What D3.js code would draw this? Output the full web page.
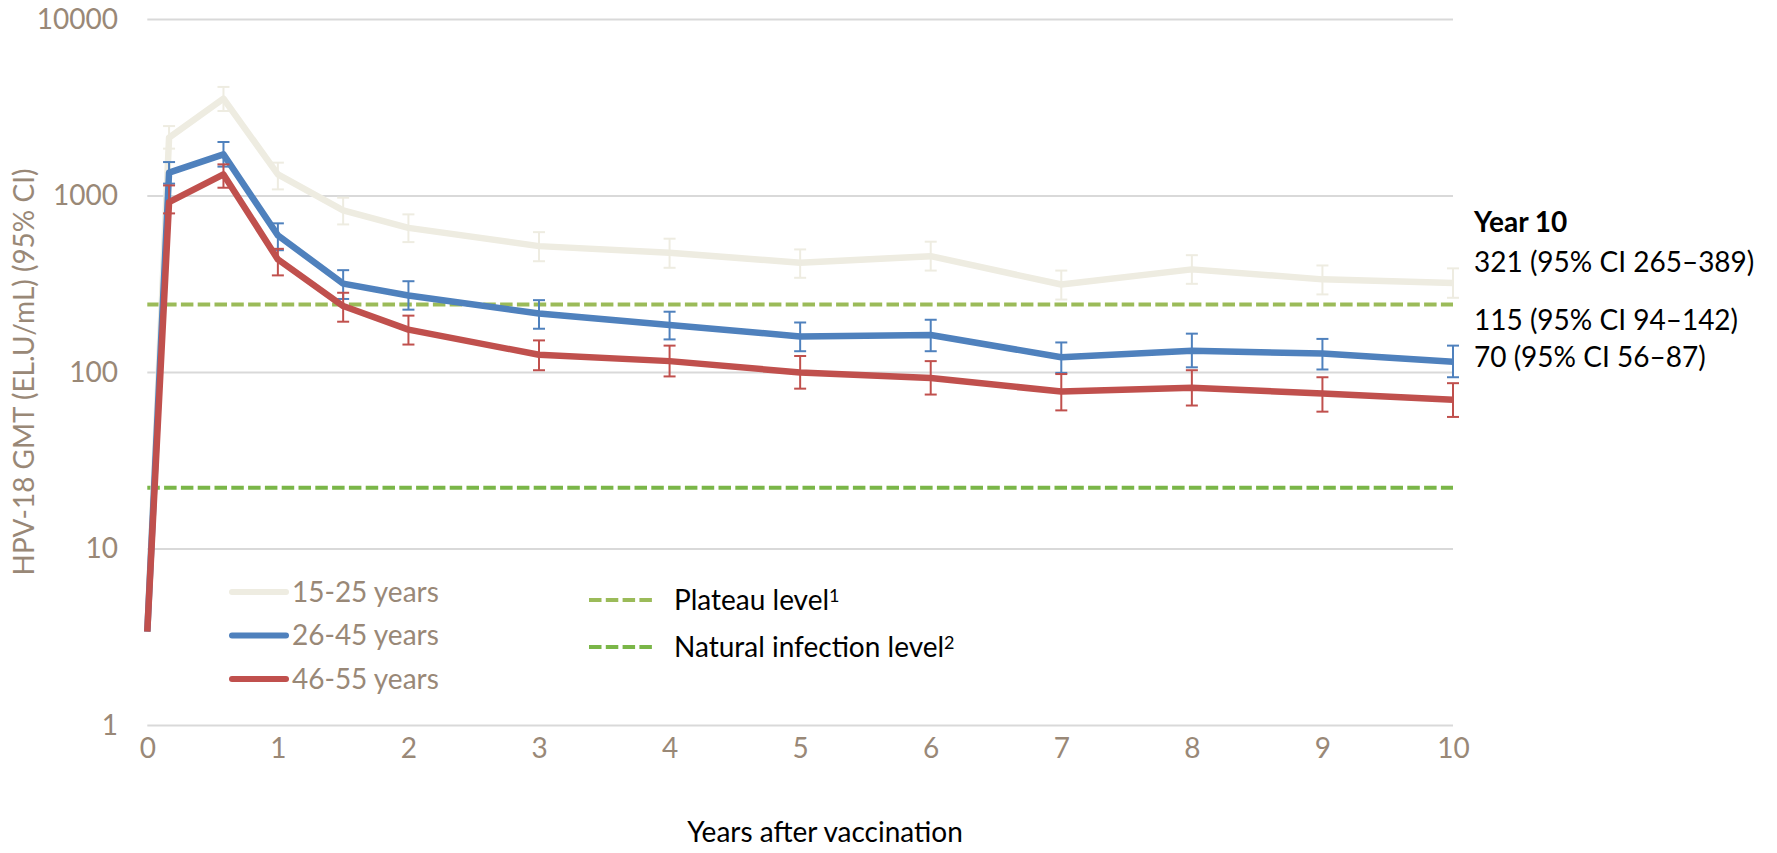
<!DOCTYPE html>
<html>
<head>
<meta charset="utf-8">
<script src="https://cdn.jsdelivr.net/npm/d3@7"></script>
<style>
  html, body { margin: 0; padding: 0; background: #ffffff; }
  svg { display: block; }
  text { font-family: Lato, "Open Sans", sans-serif; }
</style>
</head>
<body>
<svg id="chart" width="1777" height="853"></svg>
<script>
// Time points (years after vaccination): month 0, month 2, month 7, then yearly/half-yearly
const years = [0, 2 / 12, 7 / 12, 1, 1.5, 2, 3, 4, 5, 6, 7, 8, 9, 10];

// HPV-18 GMT (EL.U/mL) and 95% CI bounds per age group
const gmt1525 = [3.4, 2140, 3560, 1325, 830, 660, 520, 477, 419, 456, 315, 384, 337, 321];
const lo1525  = [null, 1855, 3030, 1090, 690, 548, 427, 392, 344, 378, 259, 318, 277, 265];
const hi1525  = [null, 2490, 4150, 1545, 978, 787, 624, 573, 498, 551, 378, 462, 404, 389];

const gmt2645 = [3.4, 1356, 1722, 598, 319, 273, 216, 186, 160, 163, 122, 133, 128, 115];
const lo2645  = [null, 1175, 1467, 493, 261, 227, 177, 154, 132, 132, 99.5, 107, 104, 94];
const hi2645  = [null, 1557, 2023, 700, 380, 329, 257, 221, 192, 199, 148, 166, 155, 142];

const gmt4655 = [3.4, 923, 1325, 437, 238, 175, 126, 116, 100, 93, 78, 82, 76, 70];
const lo4655  = [null, 797, 1114, 355, 194, 144, 103, 95, 81, 75, 61, 65, 60, 56];
const hi4655  = [null, 1148, 1511, 502, 283, 210, 152, 142, 124, 116, 98, 103, 94, 87];

const seriesNames = ["15-25 years", "26-45 years", "46-55 years"];
const seriesColors = ["#EEECE1", "#4F81BD", "#C0504D"];

// Reference levels
const plateauLevel = 243;
const naturalLevel = 22.2;

const yTicks = [1, 10, 100, 1000, 10000];
const xTicks = [0, 1, 2, 3, 4, 5, 6, 7, 8, 9, 10];

const year10Title = "Year 10";
const year10Labels = ["321 (95% CI 265–389)", "115 (95% CI 94–142)", "70 (95% CI 56–87)"];

const series = [
  { name: seriesNames[0], color: seriesColors[0], gmt: gmt1525, lo: lo1525, hi: hi1525 },
  { name: seriesNames[1], color: seriesColors[1], gmt: gmt2645, lo: lo2645, hi: hi2645 },
  { name: seriesNames[2], color: seriesColors[2], gmt: gmt4655, lo: lo4655, hi: hi4655 }
];

const svg = d3.select("#chart");
const tickColor = "#998877";

const x = d3.scaleLinear().domain([0, 10]).range([147.3, 1453]);
const y = d3.scaleLog().domain([1, 10000]).range([725.5, 19.5]);

// Horizontal gridlines
svg.append("g")
  .selectAll("line")
  .data(yTicks)
  .join("line")
  .attr("x1", x(0)).attr("x2", x(10))
  .attr("y1", d => y(d)).attr("y2", d => y(d))
  .attr("stroke", "#D9D9D9")
  .attr("stroke-width", 2);

// Y axis tick labels
const yAxis = d3.axisLeft(y).tickValues(yTicks).tickFormat(d3.format("d")).tickSize(0).tickPadding(0);
const yg = svg.append("g").attr("transform", `translate(118,0)`).call(yAxis);
yg.select(".domain").remove();
yg.selectAll("text")
  .attr("fill", tickColor)
  .style("font-size", "28px")
  .style("font-family", "Lato, sans-serif");

// X axis tick labels
const xAxis = d3.axisBottom(x).tickValues(xTicks).tickFormat(d3.format("d")).tickSize(0).tickPadding(0);
const xg = svg.append("g").attr("transform", `translate(0,752)`).call(xAxis);
xg.select(".domain").remove();
xg.selectAll("text")
  .attr("fill", tickColor)
  .attr("dy", "0.2em")
  .style("font-size", "28px")
  .style("font-family", "Lato, sans-serif");

// Reference level lines
const refLines = [
  { v: plateauLevel, color: "#9BBB59" },
  { v: naturalLevel, color: "#7AB648" }
];
svg.append("g")
  .selectAll("line")
  .data(refLines)
  .join("line")
  .attr("x1", x(0)).attr("x2", x(10))
  .attr("y1", d => y(d.v)).attr("y2", d => y(d.v))
  .attr("stroke", d => d.color)
  .attr("stroke-width", 4)
  .attr("stroke-dasharray", "12.5,4.3");

// Series lines with error bars
const line = d3.line().x(d => x(d.t)).y(d => y(d.v));
series.forEach(s => {
  const pts = years.map((t, i) => ({ t, v: s.gmt[i], lo: s.lo[i], hi: s.hi[i] }));
  const g = svg.append("g");
  g.append("path")
    .datum(pts)
    .attr("d", line)
    .attr("fill", "none")
    .attr("stroke", s.color)
    .attr("stroke-width", 6.5)
    .attr("stroke-linejoin", "round");
  const bars = pts.filter(p => p.lo != null);
  g.selectAll("line.bar")
    .data(bars)
    .join("line")
    .attr("class", "bar")
    .attr("x1", d => x(d.t)).attr("x2", d => x(d.t))
    .attr("y1", d => y(d.lo)).attr("y2", d => y(d.hi))
    .attr("stroke", s.color).attr("stroke-width", 2);
  ["lo", "hi"].forEach(k => {
    g.selectAll("line.cap-" + k)
      .data(bars)
      .join("line")
      .attr("class", "cap-" + k)
      .attr("x1", d => x(d.t) - 6).attr("x2", d => x(d.t) + 6)
      .attr("y1", d => y(d[k])).attr("y2", d => y(d[k]))
      .attr("stroke", s.color).attr("stroke-width", 2);
  });
});

// Age-group legend
const legend = svg.append("g");
series.forEach((s, i) => {
  const ly = 592 + i * 43.5;
  legend.append("line")
    .attr("x1", 232).attr("x2", 286)
    .attr("y1", ly).attr("y2", ly)
    .attr("stroke", s.color).attr("stroke-width", 6)
    .attr("stroke-linecap", "round");
  legend.append("text")
    .attr("x", 292).attr("y", ly)
    .attr("dy", "0.35em")
    .attr("fill", tickColor)
    .style("font-size", "28px")
    .text(s.name);
});

// Reference level legend
const refLegend = [
  { label: "Plateau level", sup: "1", color: "#9BBB59", y: 600 },
  { label: "Natural infection level", sup: "2", color: "#7AB648", y: 647 }
];
refLegend.forEach(r => {
  legend.append("line")
    .attr("x1", 589).attr("x2", 655)
    .attr("y1", r.y).attr("y2", r.y)
    .attr("stroke", r.color).attr("stroke-width", 4)
    .attr("stroke-dasharray", "12.5,4.3");
  const t = legend.append("text")
    .attr("x", 674).attr("y", r.y)
    .attr("dy", "0.35em")
    .attr("fill", "#000")
    .style("font-size", "28px");
  t.append("tspan").text(r.label);
  t.append("tspan").attr("dy", "-0.45em").style("font-size", "18px").text(r.sup);
});

// Year 10 annotation
const ann = svg.append("g");
ann.append("text")
  .attr("x", 1474).attr("y", 222).attr("dy", "0.35em")
  .attr("fill", "#000").style("font-size", "28px").style("font-weight", "bold")
  .text(year10Title);
const annY = [262, 320, 357];
year10Labels.forEach((t, i) => {
  ann.append("text")
    .attr("x", 1474).attr("y", annY[i]).attr("dy", "0.35em")
    .attr("fill", "#000").style("font-size", "28px")
    .text(t);
});

// Axis titles
svg.append("text")
  .attr("transform", `translate(24,372) rotate(-90)`)
  .attr("text-anchor", "middle").attr("dy", "0.35em")
  .attr("fill", tickColor).style("font-size", "28px")
  .text("HPV-18 GMT (EL.U/mL) (95% CI)");

svg.append("text")
  .attr("x", 825).attr("y", 832).attr("dy", "0.35em")
  .attr("text-anchor", "middle")
  .attr("fill", "#000").style("font-size", "28px")
  .text("Years after vaccination");
</script>
</body>
</html>
